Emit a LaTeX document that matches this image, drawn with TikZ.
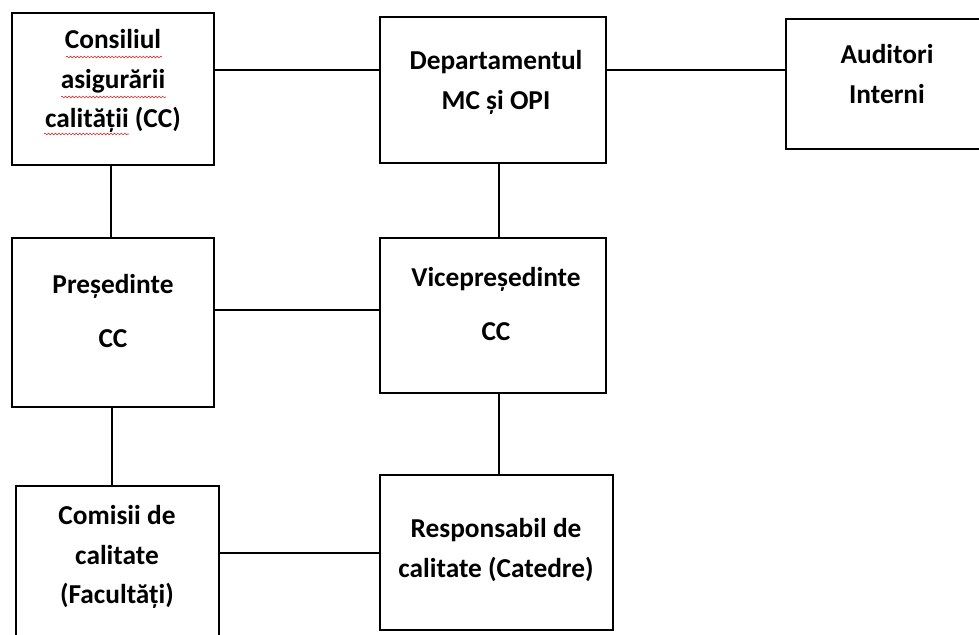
\documentclass[tikz,border=0pt]{standalone}
\usepackage{fontspec}
\setmainfont{Carlito}
\usetikzlibrary{decorations.pathmorphing}

\tikzset{every picture/.style={line width=0.75pt}}
\tikzset{
  box/.style={draw, rectangle, line width=2.2pt, inner sep=0pt, outer sep=0pt},
  conn/.style={line width=1.1pt},
  lbl/.style={inner sep=0pt, anchor=north, align=center, font=\bfseries\fontsize{20.5}{29.5}\selectfont},
  spell/.style={draw={rgb, 255:red, 215; green, 60; blue, 60}, line width=0.5pt, decorate, decoration={snake, amplitude=0.6pt, segment length=2.6pt}}
}

\begin{document}
\begin{tikzpicture}[x=0.75pt,y=0.75pt,yscale=-1,xscale=1]
\useasboundingbox (0,0) rectangle (979,635);

%Shape: Rectangle [Consiliul]
\node [box, minimum width=151.5pt, minimum height=114pt] (cons) at (113,89) {};
%Shape: Rectangle [Departamentul]
\node [box, minimum width=169.5pt, minimum height=109.5pt] (dept) at (493,90) {};
%Shape: Rectangle [Auditori]
\node [box, minimum width=160.5pt, minimum height=97.5pt] (aud) at (893,84) {};
%Shape: Rectangle [Presedinte]
\node [box, minimum width=151.5pt, minimum height=126.75pt] (pres) at (113,322.5) {};
%Shape: Rectangle [Vicepresedinte]
\node [box, minimum width=169.5pt, minimum height=116.25pt] (vice) at (493,315.5) {};
%Shape: Rectangle [Comisii]
\node [box, minimum width=152.25pt, minimum height=130.5pt] (com) at (117.5,573) {};
%Shape: Rectangle [Responsabil]
\node [box, minimum width=174.75pt, minimum height=116.25pt] (resp) at (496.5,552.5) {};

%Straight Lines
\draw [conn] (cons.east |- 0,70) -- (dept.west |- 0,70) ;
\draw [conn] (dept.east |- 0,70) -- (aud.west |- 0,70) ;
\draw [conn] (cons.south -| 111,0) -- (pres.north -| 111,0) ;
\draw [conn] (dept.south -| 499,0) -- (vice.north -| 499,0) ;
\draw [conn] (pres.east |- 0,310) -- (vice.west |- 0,310) ;
\draw [conn] (pres.south -| 112,0) -- (com.north -| 112,0) ;
\draw [conn] (vice.south -| 499,0) -- (resp.north -| 499,0) ;
\draw [conn] (com.east |- 0,553) -- (resp.west |- 0,553) ;

% Text Node
\node [lbl] (cons-t) at (113,29) {Consiliul\\asigurării\\calității (CC)};
% Text Node
\node [lbl] (dept-t) at (496,50) {Departamentul\\MC și OPI};
% Text Node
\node [lbl] (aud-t) at (887,44) {Auditori\\Interni};
% Text Node
\node [lbl] (pres-t) at (113,274) {Președinte\\[11pt]CC};
% Text Node
\node [lbl] (vice-t) at (496,267) {Vicepreședinte\\[11pt]CC};
% Text Node
\node [lbl] (com-t) at (117,505) {Comisii de\\calitate\\(Facultăți)};
% Text Node
\node [lbl] (resp-t) at (496,518) {Responsabil de\\calitate (Catedre)};

%spell check marks
\draw [spell] (66,57) -- (162,57) ;
\draw [spell] (61,97) -- (166,97) ;
\draw [spell] (44,134) -- (129,134) ;

\end{tikzpicture}
\end{document}
